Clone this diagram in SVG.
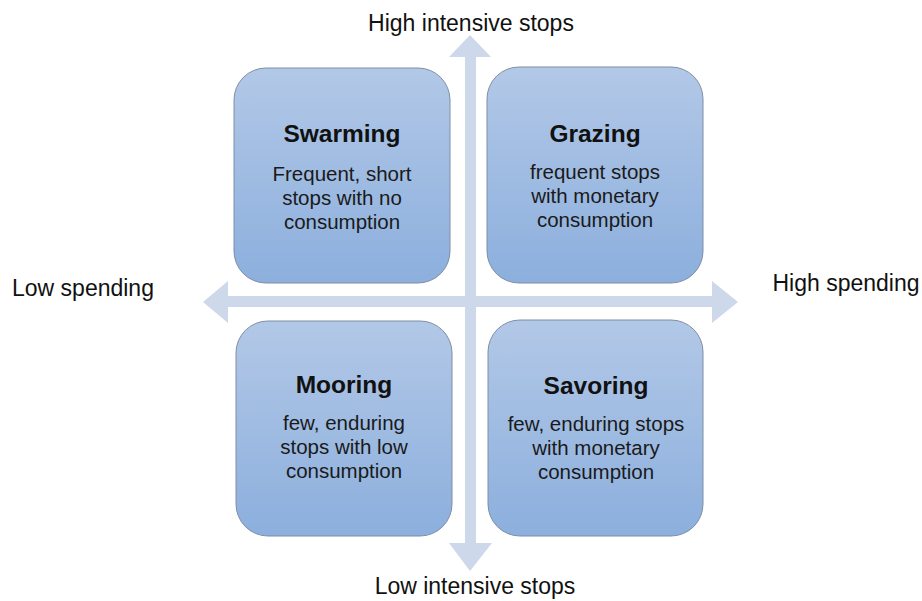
<svg xmlns="http://www.w3.org/2000/svg" width="922" height="601" viewBox="0 0 922 601">
<style>
.box{fill:url(#g);stroke:#7f8ea6;stroke-width:1}
.t{font-family:"Liberation Sans",Arial,sans-serif;font-weight:bold;font-size:24.5px;fill:#111;text-anchor:middle}
.b{font-family:"Liberation Sans",Arial,sans-serif;font-size:20.5px;fill:#1a1a1a;text-anchor:middle}
.ax{font-family:"Liberation Sans",Arial,sans-serif;font-size:23px;fill:#111;text-anchor:middle}
.arr{fill:#cdd8ea}
</style>
<defs>
<linearGradient id="g" x1="0" y1="0" x2="0" y2="1">
<stop offset="0" stop-color="#b2c8e7"/>
<stop offset="1" stop-color="#8cafdd"/>
</linearGradient>
</defs>
<rect width="922" height="601" fill="#fff"/>
<g id="connectors">
<polygon class="arr" points="465,306 465,57 449,57 470,35 491,57 476,57 476,296"/>
<polygon class="arr" points="465,296 465,543 449,543 470,571 492,543 476,543 476,306"/>
<polygon class="arr" points="470,296 228,296 228,281 203,302 228,323 228,307 470,307"/>
<polygon class="arr" points="470,296 712,296 712,281 738,302 712,323 712,307 470,307"/>
</g>
<g id="axis-top"><text class="ax" x="471" y="31">High intensive stops</text></g>
<g id="axis-bottom"><text class="ax" x="475" y="594">Low intensive stops</text></g>
<g id="axis-left"><text class="ax" x="83" y="296">Low spending</text></g>
<g id="axis-right"><text class="ax" x="846" y="291">High spending</text></g>
<g id="swarming">
<rect class="box" x="234" y="68" width="216" height="215" rx="32"/>
<text class="t" x="342" y="142">Swarming</text>
<text class="b" x="342" y="181">Frequent, short</text>
<text class="b" x="342" y="205">stops with no</text>
<text class="b" x="342" y="229">consumption</text>
</g>
<g id="grazing">
<rect class="box" x="487" y="67" width="216" height="216" rx="32"/>
<text class="t" x="595" y="142">Grazing</text>
<text class="b" x="595" y="179">frequent stops</text>
<text class="b" x="595" y="203">with monetary</text>
<text class="b" x="595" y="227">consumption</text>
</g>
<g id="mooring">
<rect class="box" x="236" y="321" width="216" height="215" rx="32"/>
<text class="t" x="344" y="393">Mooring</text>
<text class="b" x="344" y="430">few, enduring</text>
<text class="b" x="344" y="454">stops with low</text>
<text class="b" x="344" y="478">consumption</text>
</g>
<g id="savoring">
<rect class="box" x="488" y="320" width="215" height="216" rx="32"/>
<text class="t" x="596" y="394">Savoring</text>
<text class="b" x="596" y="431">few, enduring stops</text>
<text class="b" x="596" y="455">with monetary</text>
<text class="b" x="596" y="479">consumption</text>
</g>
</svg>
